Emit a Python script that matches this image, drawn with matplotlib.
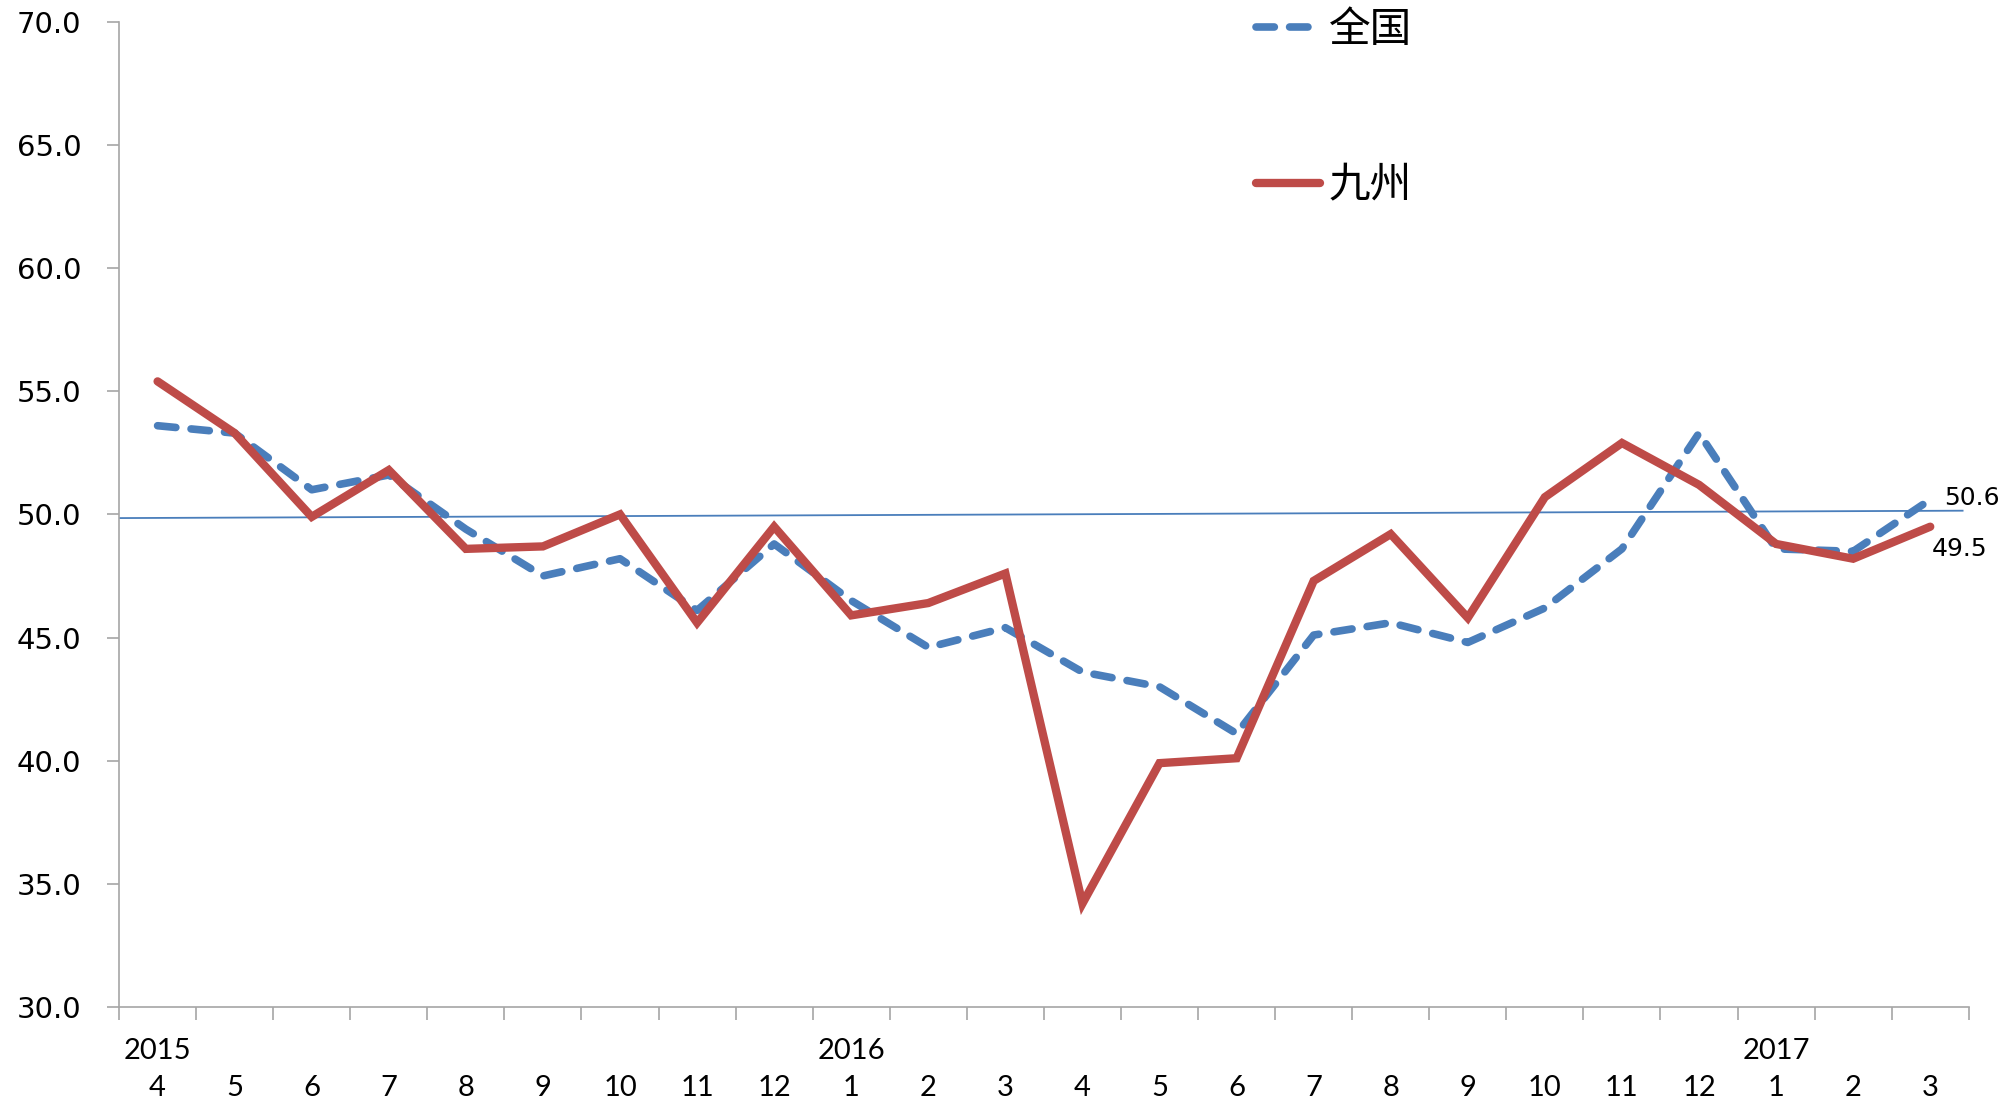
import numpy as np
import matplotlib
matplotlib.use('Agg')
import matplotlib.pyplot as plt

# data
months = ['4', '5', '6', '7', '8', '9', '10', '11', '12',
          '1', '2', '3', '4', '5', '6', '7', '8', '9', '10', '11', '12',
          '1', '2', '3']
year_labels = ['2015', '2016', '2017']
year_pos = [0, 9, 21]

quanguo = [53.6, 53.3, 51.0, 51.6, 49.4, 47.5, 48.2, 46.1, 48.8,
           46.5, 44.6, 45.4, 43.6, 43.0, 41.1, 45.1, 45.6, 44.8,
           46.2, 48.6, 53.3, 48.6, 48.5, 50.6]
jiuzhou = [55.4, 53.3, 49.9, 51.8, 48.6, 48.7, 50.0, 45.6, 49.5,
           45.9, 46.4, 47.6, 34.2, 39.9, 40.1, 47.3, 49.2, 45.8,
           50.7, 52.9, 51.2, 48.8, 48.2, 49.5]
ref_line = [49.85, 50.15]

blue = '#4A7EBB'
red = '#BE4B48'
grey = '#A6A6A6'

fig = plt.figure(figsize=(20.11, 11.01), dpi=100)
ax = fig.add_axes([0.0592, 0.0854, 0.9198, 0.8948])

x = np.arange(len(months))

# thin reference line near 50
ax.plot([-0.5, 23.42], ref_line, color=blue, lw=1.3, zorder=1)

l1, = ax.plot(x, quanguo, color=blue, lw=5.5, dashes=(2.4, 2.0),
              dash_capstyle='round', solid_joinstyle='round', label='全国', zorder=2)
l2, = ax.plot(x, jiuzhou, color=red, lw=6, solid_capstyle='round',
              solid_joinstyle='miter', label='九州', zorder=3)

ax.set_xlim(-0.5, len(months) - 0.5)
ax.set_ylim(30, 70)
ax.set_yticks(np.arange(30, 71, 5))
ax.set_yticklabels([f'{v:.1f}' for v in np.arange(30, 71, 5)],
                   fontsize=21, family='DejaVu Sans')

# boundaries as major ticks, month labels as minor ticks
ax.set_xticks(np.arange(-0.5, len(months), 1))
ax.set_xticklabels([])
ax.set_xticks(x, minor=True)
ax.set_xticklabels(months, minor=True, fontsize=21, family='Lato')
ax.tick_params(axis='x', which='major', length=9, width=1.2, color=grey, direction='out')
ax.tick_params(axis='x', which='minor', length=0, pad=49)
ax.tick_params(axis='y', length=9, width=1.2, color=grey, pad=18)

for xp, yl in zip(year_pos, year_labels):
    ax.text(xp, -0.045, yl, transform=ax.get_xaxis_transform(),
            ha='center', va='center', fontsize=21, family='Lato')

for s in ['top', 'right']:
    ax.spines[s].set_visible(False)
for s in ['left', 'bottom']:
    ax.spines[s].set_color(grey)
    ax.spines[s].set_linewidth(1.2)

# end labels
ax.annotate(f'{quanguo[-1]:.1f}', (x[-1], quanguo[-1]), xytext=(10, 1),
            textcoords='offset points', ha='left', va='center', fontsize=18,
            family='DejaVu Sans')
ax.annotate(f'{jiuzhou[-1]:.1f}', (x[-1], jiuzhou[-1]), xytext=(1, -16),
            textcoords='offset points', ha='left', va='center', fontsize=18,
            family='DejaVu Sans')

leg = fig.legend(handles=[l1, l2], loc='upper left', bbox_to_anchor=(0.6245, 0.991),
                 frameon=False,
                 prop={'family': 'Noto Sans CJK SC', 'size': 30, 'weight': 'medium'},
                 handlelength=1.55, handletextpad=0.2, labelspacing=2.75,
                 borderpad=0, borderaxespad=0)

fig.savefig('out.png', dpi=100)
